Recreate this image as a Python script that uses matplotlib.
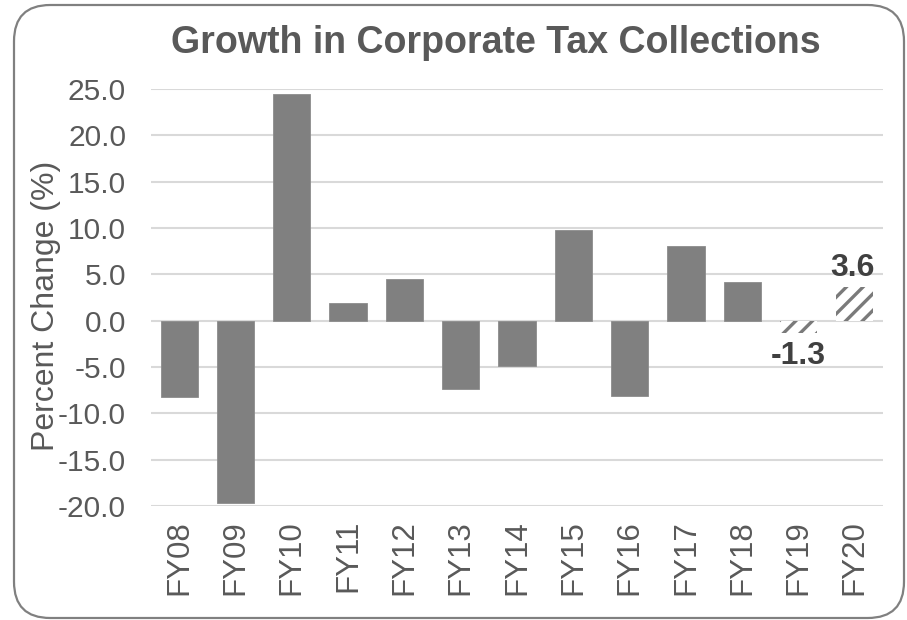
import matplotlib
matplotlib.use("Agg")
import matplotlib.pyplot as plt
from matplotlib.patches import FancyBboxPatch

categories = ["FY08", "FY09", "FY10", "FY11", "FY12", "FY13", "FY14",
              "FY15", "FY16", "FY17", "FY18", "FY19", "FY20"]
values = [-8.2, -19.7, 24.5, 1.9, 4.5, -7.4, -4.9, 9.8, -8.1, 8.1, 4.2, -1.3, 3.6]
projected = [False] * 11 + [True, True]
yticks = [-20.0, -15.0, -10.0, -5.0, 0.0, 5.0, 10.0, 15.0, 20.0, 25.0]

plt.rcParams['font.family'] = ['Liberation Sans', 'DejaVu Sans']
plt.rcParams['hatch.linewidth'] = 2.4

W, H = 907, 620
fig = plt.figure(figsize=(W / 100, H / 100), dpi=100)

# rounded border
border = FancyBboxPatch((14 / W, 1 - 618 / H), (904 - 14) / W, (618 - 5) / H,
                        boxstyle="round,pad=0,rounding_size=0.04",
                        transform=fig.transFigure, fill=False,
                        edgecolor='#808080', linewidth=1.6, mutation_aspect=W / H)
fig.patches.append(border)

ax = fig.add_axes([151 / W, 1 - 506 / H, (883 - 151) / W, (506 - 89) / H])
x = list(range(len(categories)))
for i, (v, p) in enumerate(zip(values, projected)):
    if p:
        ax.bar(i, v, width=0.66, color='white', edgecolor='#7a7a7a',
               hatch='//', linewidth=0, zorder=3)
    else:
        ax.bar(i, v, width=0.66, color='#808080', edgecolor='#8c8c8c',
               linewidth=0.6, zorder=3)

for i, (v, p) in enumerate(zip(values, projected)):
    if p:
        if v >= 0:
            ax.text(i - 0.05, v + 0.5, f"{v:.1f}", ha='center', va='bottom',
                    fontsize=23, fontweight='bold', color='#404040')
        else:
            ax.text(i, v - 0.9, f"{v:.1f}", ha='center', va='top',
                    fontsize=23, fontweight='bold', color='#404040')

ax.set_xlim(-0.5, len(categories) - 0.5)
ax.set_ylim(-20, 25)
ax.set_yticks(yticks)
ax.set_yticklabels([f"{t:.1f}" for t in yticks])
ax.set_xticks(x)
ax.set_xticklabels(categories, rotation=90)
ax.tick_params(axis='both', length=0, colors='#595959')
ax.tick_params(axis='x', pad=10, labelsize=22.5)
ax.tick_params(axis='y', pad=18, labelsize=21.5)
ax.grid(axis='y', color='#d9d9d9', linewidth=1.5, zorder=0)
ax.set_axisbelow(True)
for s in ax.spines.values():
    s.set_visible(False)

fig.text(46 / W, 1 - 306 / H, "Percent Change (%)", rotation=90,
         ha='center', va='center', fontsize=23, color='#595959')
fig.text(496 / W, 1 - 43 / H, "Growth in Corporate Tax Collections",
         ha='center', va='center', fontsize=27, fontweight='bold', color='#595959')

fig.savefig("out.png", dpi=100)
